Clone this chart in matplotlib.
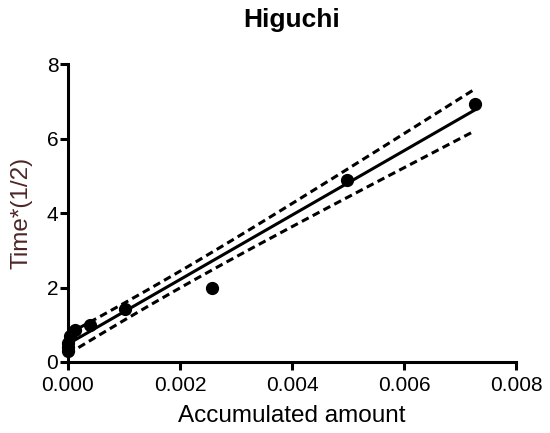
import numpy as np
import matplotlib.pyplot as plt

plt.rcParams['font.family'] = ['Liberation Sans', 'DejaVu Sans']

# accumulated amount vs sqrt(time)
amount = [0.0, 0.0, 0.0, 0.00003, 0.00013, 0.00039, 0.00102, 0.00258, 0.00498, 0.00727]
sqrt_time = [0.29, 0.41, 0.5, 0.71, 0.87, 1.0, 1.41, 2.0, 4.9, 6.93]

x_ticks = [0.0, 0.002, 0.004, 0.006, 0.008]
y_ticks = [0, 2, 4, 6, 8]

# t critical values (95%, two-sided) by degrees of freedom
T_CRIT = {5: 2.571, 6: 2.447, 7: 2.365, 8: 2.306, 9: 2.262, 10: 2.228}

x = np.array(amount)
y = np.array(sqrt_time)
n = len(x)
slope, intercept = np.polyfit(x, y, 1)
resid = y - (slope * x + intercept)
s = np.sqrt(np.sum(resid ** 2) / (n - 2))
xx = np.linspace(x.min(), x.max(), 200)
yy = slope * xx + intercept
se = s * np.sqrt(1 / n + (xx - x.mean()) ** 2 / np.sum((x - x.mean()) ** 2))
t = T_CRIT[n - 2]

fig = plt.figure(figsize=(5.5, 4.33), dpi=100)
ax = fig.add_axes([0.1236, 0.164, 0.8146, 0.688])

ax.plot(x, y, 'o', color='black', ms=8.5, zorder=3, clip_on=False)
ax.plot(xx, yy, color='black', lw=2.2)
ax.plot(xx, yy + t * se, color='black', lw=2.2, dashes=(2.5, 1.5))
ax.plot(xx, yy - t * se, color='black', lw=2.2, dashes=(2.5, 1.5))

ax.set_xlim(0, 0.008)
ax.set_ylim(0, 8)
ax.set_xticks(x_ticks)
ax.set_xticklabels([f"{v:.3f}" for v in x_ticks])
ax.set_yticks(y_ticks)

for side in ['top', 'right']:
    ax.spines[side].set_visible(False)
for side in ['left', 'bottom']:
    ax.spines[side].set_linewidth(2.2)
ax.tick_params(width=2.2, length=6, labelsize=15, direction='out')
ax.tick_params(axis='x', pad=4)
ax.tick_params(axis='y', pad=1)

ax.set_xlabel("Accumulated amount", fontsize=17.5, labelpad=7)
ax.set_ylabel("Time*(1/2)", fontsize=17.5, color='#4d2626', labelpad=10)
ax.set_title("Higuchi", fontsize=19, fontweight='bold', pad=27)

plt.savefig("out.png", dpi=100)
